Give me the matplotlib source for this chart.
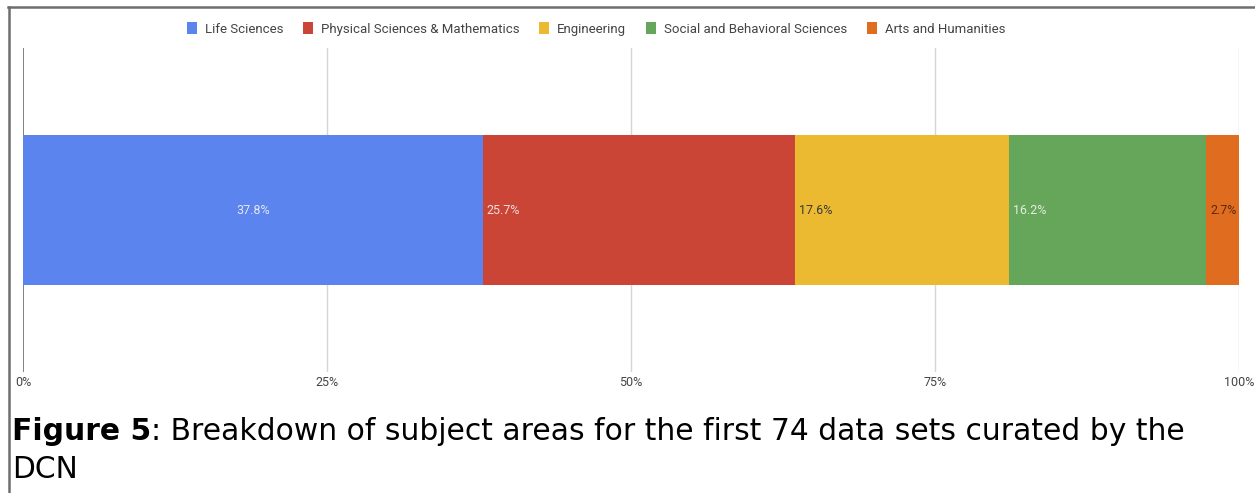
import matplotlib

matplotlib.use("Agg")
import matplotlib.pyplot as plt
from matplotlib.patches import Patch
from matplotlib.lines import Line2D

categories = [
    "Life Sciences",
    "Physical Sciences & Mathematics",
    "Engineering",
    "Social and Behavioral Sciences",
    "Arts and Humanities",
]
shares = [37.8, 25.7, 17.6, 16.2, 2.7]
colors = ["#5b84ee", "#cb4537", "#ebba30", "#66a65a", "#e06c1f"]
label_colors = ["#e4e8f0", "#f0e0dc", "#3a3a3a", "#e4ece0", "#5a2a10"]
tick_vals = [0, 25, 50, 75, 100]
tick_labels = ["0%", "25%", "50%", "75%", "100%"]
caption_bold = "Figure 5"
caption_rest = ": Breakdown of subject areas for the first 74 data sets curated by the"
caption_line2 = "DCN"

W, H = 1255, 493
fig = plt.figure(figsize=(W / 100, H / 100), dpi=100)

# frame lines on top and left of the screenshot
fig.add_artist(Line2D([8 / W, 1.0], [1 - 7 / H, 1 - 7 / H], transform=fig.transFigure, color="#6e6e6e", lw=1.8))
fig.add_artist(Line2D([8.5 / W, 8.5 / W], [0, 1 - 7 / H], transform=fig.transFigure, color="#6e6e6e", lw=1.8))

ax = fig.add_axes([23 / W, 1 - 372 / H, (1239 - 23) / W, (372 - 48) / H])
ax.set_xlim(0, 100)
ax.set_ylim(-1, 1)
for s in ax.spines.values():
    s.set_visible(False)
ax.set_yticks([])
ax.set_xticks(tick_vals)
ax.set_xticklabels(tick_labels, fontsize=9, color="#444444", family="Roboto")
ax.tick_params(axis="x", length=0, pad=3)
for i, t in enumerate(tick_vals):
    ax.axvline(t, color="#777777" if i == 0 else "#d6d6d6", lw=1.3 if i == 0 else 1, zorder=0)

left = 0
for i, (cat, v, c) in enumerate(zip(categories, shares, colors)):
    ax.barh(0, v, left=left, height=0.93, color=c, zorder=2)
    if i == 0:
        x, ha = left + v / 2, "center"
    else:
        x, ha = left + 0.35, "left"
    ax.text(x, 0, f"{v}%", ha=ha, va="center", fontsize=9, color=label_colors[i], family="Roboto", zorder=3)
    left += v

handles = [Patch(facecolor=c, edgecolor="none") for c in colors]
fig.legend(handles, categories, loc="center", bbox_to_anchor=(596 / W, 1 - 29 / H), ncol=5,
           frameon=False, prop={"family": "Roboto", "size": 9.5}, labelcolor="#444444",
           handlelength=0.75, handleheight=1.0, handletextpad=0.6, columnspacing=1.5)

cap = fig.text(12 / W, 1 - 432 / H, caption_bold, fontsize=21.4, fontweight="bold", va="center", ha="left",
               family="DejaVu Sans")
ax.annotate(caption_rest, xy=(1, 0.5), xycoords=cap, va="center", ha="left", fontsize=21.4,
            family="DejaVu Sans", annotation_clip=False)
fig.text(12 / W, 1 - 470 / H, caption_line2, fontsize=21.4, va="center", ha="left", family="DejaVu Sans")

fig.savefig("out.png", dpi=100)
